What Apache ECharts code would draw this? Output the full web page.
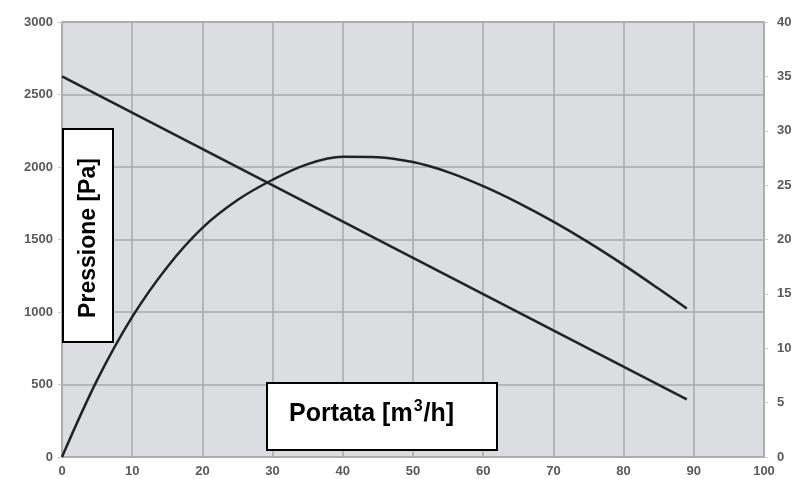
<!DOCTYPE html>
<html>
<head>
<meta charset="utf-8">
<script src="https://cdn.jsdelivr.net/npm/echarts@6/dist/echarts.min.js"></script>
<style>
html,body{margin:0;padding:0;background:#fff;}
#c{width:795px;height:479px;}
</style>
</head>
<body>
<div id="c"></div>
<script>
// Data
const portata = [0, 5, 10, 15, 20, 25, 30, 35, 40, 45, 50, 55, 60, 65, 70, 75, 80, 85, 89];
const pressione = [0, 530, 966, 1311, 1580, 1772, 1912, 2020, 2070, 2068, 2034, 1965, 1868, 1753, 1623, 1480, 1325, 1160, 1024];
const rettaX = [0, 89];
const rettaY = [35, 5.3];
const leftTicks = [0, 3000, 500];
const rightTicks = [0, 40, 5];
const xTicks = [0, 100, 10];

const chart = echarts.init(document.getElementById('c'));
const labelStyle = {color: '#5a5a5a', fontFamily: 'Liberation Sans, Arial', fontSize: 13, fontWeight: 'bold', formatter: v => String(v)};
chart.setOption({
  animation: false,
  grid: {left: 62, right: 31, top: 22, bottom: 22, show: true, backgroundColor: '#dcdde0', borderColor: '#a9a9a9', borderWidth: 1.5},
  xAxis: {
    type: 'value', min: xTicks[0], max: xTicks[1], interval: xTicks[2],
    axisLine: {show: false}, axisTick: {show: false},
    axisLabel: Object.assign({margin: 8}, labelStyle),
    splitLine: {lineStyle: {color: '#a9a9a9', width: 1.5}}
  },
  yAxis: [{
    type: 'value', min: leftTicks[0], max: leftTicks[1], interval: leftTicks[2],
    axisLine: {show: false},
    axisTick: {show: true, length: 4, lineStyle: {color: '#c8c8c8'}},
    axisLabel: Object.assign({margin: 9}, labelStyle),
    splitLine: {lineStyle: {color: '#a9a9a9', width: 1.5}}
  }, {
    type: 'value', position: 'right', min: rightTicks[0], max: rightTicks[1], interval: rightTicks[2],
    axisLine: {show: false},
    axisTick: {show: true, length: 4, lineStyle: {color: '#c8c8c8'}},
    axisLabel: Object.assign({margin: 13}, labelStyle),
    splitLine: {show: false}
  }],
  series: [{
    type: 'line', yAxisIndex: 0, smooth: 0.35, symbol: 'none',
    data: portata.map((x, i) => [x, pressione[i]]),
    lineStyle: {color: '#222', width: 2.5}
  }, {
    type: 'line', yAxisIndex: 1, symbol: 'none',
    data: rettaX.map((x, i) => [x, rettaY[i]]),
    lineStyle: {color: '#222', width: 2.5}
  }],
  graphic: [{
    type: 'rect', shape: {x: 63, y: 129, width: 50, height: 213},
    style: {fill: '#fff', stroke: '#000', lineWidth: 2}, z: 100
  }, {
    type: 'text', x: 89, y: 238, rotation: Math.PI / 2, z: 101,
    style: {text: 'Pressione [Pa]', fill: '#000', font: 'bold 23px "Liberation Sans", Arial', align: 'center', verticalAlign: 'middle'}
  }, {
    type: 'rect', shape: {x: 267, y: 383, width: 230, height: 67},
    style: {fill: '#fff', stroke: '#000', lineWidth: 2}, z: 100
  }, {
    type: 'text', x: 289, y: 413, z: 101,
    style: {
      text: '{a|Portata [m}{s|3}{a|/h]}',
      verticalAlign: 'middle', align: 'left',
      rich: {
        a: {fill: '#000', font: 'bold 25px "Liberation Sans", Arial', lineHeight: 28, verticalAlign: 'bottom'},
        s: {fill: '#000', font: 'bold 16px "Liberation Sans", Arial', lineHeight: 16, verticalAlign: 'top', padding: [0, 1, 12, 1]}
      }
    }
  }]
});
</script>
</body>
</html>
